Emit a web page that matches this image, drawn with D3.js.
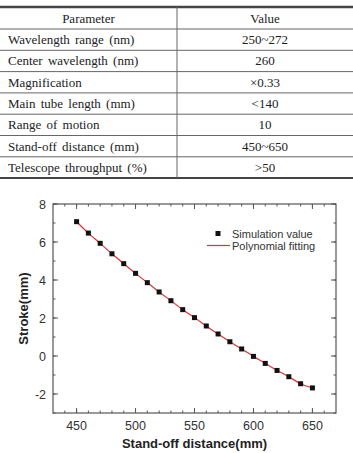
<!DOCTYPE html>
<html>
<head>
<meta charset="utf-8">
<script src="https://cdn.jsdelivr.net/npm/d3@7"></script>
<style>
  body { margin: 0; background: #fff; }
  svg { display: block; }
</style>
</head>
<body>
<div id="container"></div>
<script>
let width = 353;
let height = 453;

// table rows
let paramNames = ["Wavelength range (nm)", "Center wavelength (nm)", "Magnification",
  "Main tube length (mm)", "Range of motion", "Stand-off distance (mm)", "Telescope throughput (%)"];
let paramValues = ["250~272", "260", "\u00d70.33", "<140", "10", "450~650", ">50"];

// chart data
let standoff = [450, 460, 470, 480, 490, 500, 510, 520, 530, 540, 550,
  560, 570, 580, 590, 600, 610, 620, 630, 640, 650];
let stroke = [7.07, 6.47, 5.93, 5.38, 4.86, 4.35, 3.86, 3.37, 2.91, 2.44, 2.02,
  1.58, 1.16, 0.75, 0.37, -0.02, -0.39, -0.76, -1.09, -1.46, -1.68];
let xTicks = [450, 500, 550, 600, 650];
let yTicks = [-2, 0, 2, 4, 6, 8];

const svg = d3.select("#container").append("svg")
  .attr("width", width)
  .attr("height", height);

// ---- table ----
let tableTop = 7, headH = 22, rowH = 21.3, colX = 177;
const table = svg.append("g").attr("font-family", "'Liberation Serif', 'Times New Roman', serif")
  .attr("font-size", 13).attr("fill", "#222");

let rowY = i => tableTop + headH + i * rowH;

table.append("line").attr("x1", 0).attr("x2", width).attr("y1", tableTop).attr("y2", tableTop)
  .attr("stroke", "#444").attr("stroke-width", 2.5);

paramNames.forEach(function(n, i) {
  table.append("line").attr("x1", 0).attr("x2", width)
    .attr("y1", rowY(i)).attr("y2", rowY(i))
    .attr("stroke", "#666").attr("stroke-width", 1);
});

let tableBottom = rowY(paramNames.length);
table.append("line").attr("x1", 0).attr("x2", width).attr("y1", tableBottom).attr("y2", tableBottom)
  .attr("stroke", "#444").attr("stroke-width", 2);
table.append("line").attr("x1", colX).attr("x2", colX).attr("y1", tableTop).attr("y2", tableBottom)
  .attr("stroke", "#666").attr("stroke-width", 1);

table.append("text").attr("x", colX / 2).attr("y", tableTop + headH / 2 + 4.5)
  .attr("text-anchor", "middle").text("Parameter");
table.append("text").attr("x", (colX + width) / 2).attr("y", tableTop + headH / 2 + 4.5)
  .attr("text-anchor", "middle").text("Value");

table.selectAll("text.name").data(paramNames).join("text")
  .attr("class", "name")
  .attr("x", 8)
  .attr("y", (d, i) => rowY(i) + rowH / 2 + 4.5)
  .attr("word-spacing", 2)
  .text(d => d);

table.selectAll("text.val").data(paramValues).join("text")
  .attr("class", "val")
  .attr("x", (colX + width) / 2)
  .attr("y", (d, i) => rowY(i) + rowH / 2 + 4.5)
  .attr("text-anchor", "middle")
  .text(d => d);

// ---- chart ----
let plot = {left: 53, right: 336, top: 204, bottom: 413};

let x = d3.scaleLinear().domain([430, 670]).range([plot.left, plot.right]);
let y = d3.scaleLinear().domain([-3, 8]).range([plot.bottom, plot.top]);

const chart = svg.append("g").attr("font-family", "'Liberation Sans', Arial, sans-serif");

// ticks inward on all four sides
let axisColor = "#555";
let minorX = d3.range(440, 670, 10);
let minorY = d3.range(-3, 9, 1);

function tickLines(vals, len, horizontal) {
  vals.forEach(function(v) {
    if (horizontal) {
      chart.append("line").attr("x1", x(v)).attr("x2", x(v)).attr("y1", plot.bottom).attr("y2", plot.bottom - len)
        .attr("stroke", axisColor);
      chart.append("line").attr("x1", x(v)).attr("x2", x(v)).attr("y1", plot.top).attr("y2", plot.top + len)
        .attr("stroke", axisColor);
    } else {
      chart.append("line").attr("y1", y(v)).attr("y2", y(v)).attr("x1", plot.left).attr("x2", plot.left + len)
        .attr("stroke", axisColor);
      chart.append("line").attr("y1", y(v)).attr("y2", y(v)).attr("x1", plot.right).attr("x2", plot.right - len)
        .attr("stroke", axisColor);
    }
  });
}
tickLines(minorX, 2.5, true);
tickLines(xTicks, 5, true);
tickLines(minorY, 2.5, false);
tickLines(yTicks, 5, false);

chart.append("rect")
  .attr("x", plot.left).attr("y", plot.top)
  .attr("width", plot.right - plot.left).attr("height", plot.bottom - plot.top)
  .attr("fill", "none").attr("stroke", axisColor).attr("stroke-width", 1.2);

chart.selectAll("text.xt").data(xTicks).join("text")
  .attr("class", "xt")
  .attr("x", d => x(d)).attr("y", plot.bottom + 17)
  .attr("text-anchor", "middle").attr("font-size", 12.5).attr("fill", "#333")
  .text(d => d);

chart.selectAll("text.yt").data(yTicks).join("text")
  .attr("class", "yt")
  .attr("x", plot.left - 7).attr("y", d => y(d) + 4.5)
  .attr("text-anchor", "end").attr("font-size", 12.5).attr("fill", "#333")
  .text(d => d);

chart.append("text")
  .attr("x", (plot.left + plot.right) / 2).attr("y", 448)
  .attr("text-anchor", "middle").attr("font-size", 13).attr("font-weight", "bold").attr("fill", "#222")
  .text("Stand-off distance(mm)");

chart.append("text")
  .attr("transform", `translate(28,${(plot.top + plot.bottom) / 2}) rotate(-90)`)
  .attr("text-anchor", "middle").attr("font-size", 13).attr("font-weight", "bold").attr("fill", "#222")
  .text("Stroke(mm)");

// polynomial fitting line
let pts = standoff.map((s, i) => [s, stroke[i]]);
chart.append("path")
  .datum(pts)
  .attr("fill", "none")
  .attr("stroke", "#d33")
  .attr("stroke-width", 1.2)
  .attr("d", d3.line().x(d => x(d[0])).y(d => y(d[1])).curve(d3.curveNatural));

// simulation values
chart.selectAll("rect.pt").data(pts).join("rect")
  .attr("class", "pt")
  .attr("x", d => x(d[0]) - 2.5).attr("y", d => y(d[1]) - 2.5)
  .attr("width", 5).attr("height", 5)
  .attr("fill", "#111");

// legend
chart.append("rect").attr("x", 215.5).attr("y", 231).attr("width", 5).attr("height", 5).attr("fill", "#111");
chart.append("text").attr("x", 232).attr("y", 237.5).attr("font-size", 11).attr("fill", "#333")
  .text("Simulation value");
chart.append("line").attr("x1", 207).attr("x2", 230).attr("y1", 245.5).attr("y2", 245.5)
  .attr("stroke", "#d33").attr("stroke-width", 1.2);
chart.append("text").attr("x", 232).attr("y", 249.5).attr("font-size", 11).attr("fill", "#333")
  .text("Polynomial fitting");
</script>
</body>
</html>
